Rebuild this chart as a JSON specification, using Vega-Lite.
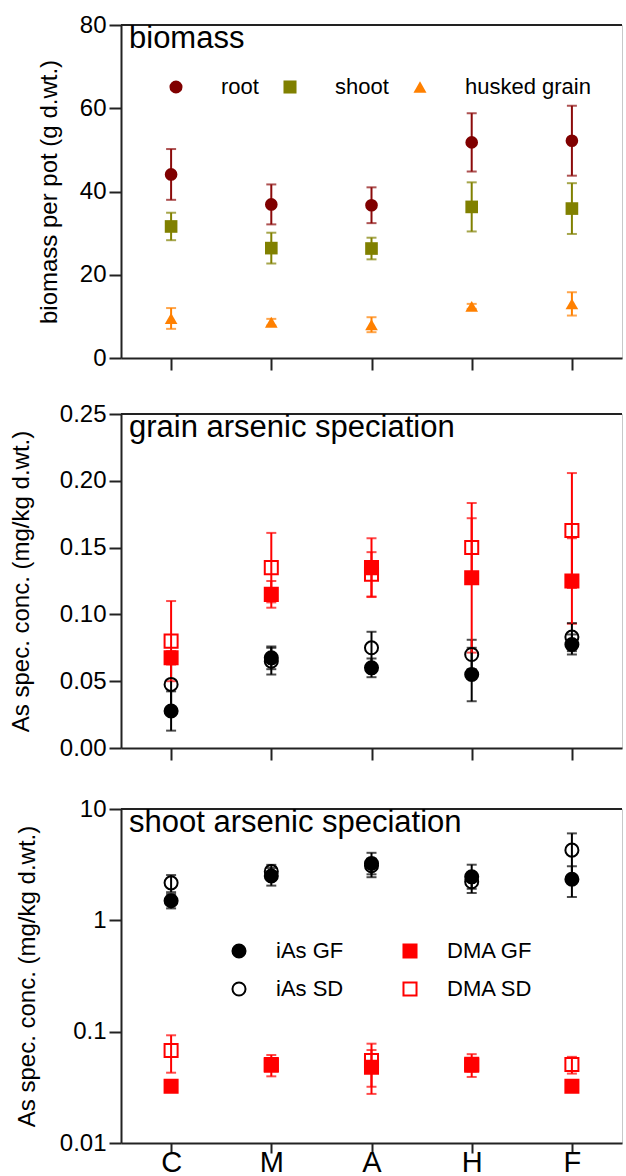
{
  "$schema": "https://vega.github.io/schema/vega-lite/v6.json",
  "padding": {"left": 8, "top": 12, "right": 0, "bottom": 0},
  "background": "white",
  "config": {
    "font": "Liberation Sans",
    "view": {"stroke": "#c8c8c8", "strokeWidth": 1},
    "axis": {
      "domainColor": "#222", "domainWidth": 2, "tickColor": "#222", "tickWidth": 2, "tickSize": 12,
      "labelFontSize": 24, "labelColor": "#000", "labelPadding": 3, "labelFlush": false,
      "titleFontSize": 24, "titleFontWeight": "normal", "titleColor": "#000", "grid": false
    },
    "legend": {"labelFontSize": 22, "labelColor": "#000", "padding": 0},
    "title": {"fontSize": 31, "fontWeight": "normal", "anchor": "start", "frame": "group", "color": "#000", "baseline": "alphabetic", "offset": -42, "dx": 8}
  },
  "datasets": {
    "biomass": [
      {"treatment": "C", "tissue": "root", "mean": 44.1, "sd": 6.1},
      {"treatment": "M", "tissue": "root", "mean": 36.9, "sd": 4.8},
      {"treatment": "A", "tissue": "root", "mean": 36.7, "sd": 4.3},
      {"treatment": "H", "tissue": "root", "mean": 51.8, "sd": 7.0},
      {"treatment": "F", "tissue": "root", "mean": 52.2, "sd": 8.4},
      {"treatment": "C", "tissue": "shoot", "mean": 31.6, "sd": 3.3},
      {"treatment": "M", "tissue": "shoot", "mean": 26.4, "sd": 3.7},
      {"treatment": "A", "tissue": "shoot", "mean": 26.3, "sd": 2.6},
      {"treatment": "H", "tissue": "shoot", "mean": 36.3, "sd": 5.9},
      {"treatment": "F", "tissue": "shoot", "mean": 35.9, "sd": 6.1},
      {"treatment": "C", "tissue": "husked grain", "mean": 9.5, "sd": 2.5},
      {"treatment": "M", "tissue": "husked grain", "mean": 8.6, "sd": 0.8},
      {"treatment": "A", "tissue": "husked grain", "mean": 8.0, "sd": 1.8},
      {"treatment": "H", "tissue": "husked grain", "mean": 12.4, "sd": 0.6},
      {"treatment": "F", "tissue": "husked grain", "mean": 13.0, "sd": 2.8}
    ],
    "speciation": [
      {"part": "grain", "treatment": "C", "series": "iAs GF", "mean": 0.0277, "sd": 0.0147},
      {"part": "grain", "treatment": "M", "series": "iAs GF", "mean": 0.0675, "sd": 0.0085},
      {"part": "grain", "treatment": "A", "series": "iAs GF", "mean": 0.060, "sd": 0.007},
      {"part": "grain", "treatment": "H", "series": "iAs GF", "mean": 0.055, "sd": 0.020},
      {"part": "grain", "treatment": "F", "series": "iAs GF", "mean": 0.0775, "sd": 0.0075},
      {"part": "grain", "treatment": "C", "series": "iAs SD", "mean": 0.0476, "sd": 0.017},
      {"part": "grain", "treatment": "M", "series": "iAs SD", "mean": 0.065, "sd": 0.010},
      {"part": "grain", "treatment": "A", "series": "iAs SD", "mean": 0.075, "sd": 0.012},
      {"part": "grain", "treatment": "H", "series": "iAs SD", "mean": 0.070, "sd": 0.011},
      {"part": "grain", "treatment": "F", "series": "iAs SD", "mean": 0.083, "sd": 0.0105},
      {"part": "grain", "treatment": "C", "series": "DMA GF", "mean": 0.0675, "sd": 0.005},
      {"part": "grain", "treatment": "M", "series": "DMA GF", "mean": 0.115, "sd": 0.010},
      {"part": "grain", "treatment": "A", "series": "DMA GF", "mean": 0.135, "sd": 0.022},
      {"part": "grain", "treatment": "H", "series": "DMA GF", "mean": 0.1274, "sd": 0.056},
      {"part": "grain", "treatment": "F", "series": "DMA GF", "mean": 0.125, "sd": 0.032},
      {"part": "grain", "treatment": "C", "series": "DMA SD", "mean": 0.080, "sd": 0.030},
      {"part": "grain", "treatment": "M", "series": "DMA SD", "mean": 0.135, "sd": 0.026},
      {"part": "grain", "treatment": "A", "series": "DMA SD", "mean": 0.130, "sd": 0.0166},
      {"part": "grain", "treatment": "H", "series": "DMA SD", "mean": 0.150, "sd": 0.022},
      {"part": "grain", "treatment": "F", "series": "DMA SD", "mean": 0.1628, "sd": 0.043},
      {"part": "shoot", "treatment": "C", "series": "iAs GF", "mean": 1.50, "sd": 0.22},
      {"part": "shoot", "treatment": "M", "series": "iAs GF", "mean": 2.5, "sd": 0.45},
      {"part": "shoot", "treatment": "A", "series": "iAs GF", "mean": 3.24, "sd": 0.8},
      {"part": "shoot", "treatment": "H", "series": "iAs GF", "mean": 2.46, "sd": 0.7},
      {"part": "shoot", "treatment": "F", "series": "iAs GF", "mean": 2.34, "sd": 0.72},
      {"part": "shoot", "treatment": "C", "series": "iAs SD", "mean": 2.17, "sd": 0.38},
      {"part": "shoot", "treatment": "M", "series": "iAs SD", "mean": 2.75, "sd": 0.4},
      {"part": "shoot", "treatment": "A", "series": "iAs SD", "mean": 3.09, "sd": 0.5},
      {"part": "shoot", "treatment": "H", "series": "iAs SD", "mean": 2.22, "sd": 0.3},
      {"part": "shoot", "treatment": "F", "series": "iAs SD", "mean": 4.27, "sd": 1.77},
      {"part": "shoot", "treatment": "C", "series": "DMA GF", "mean": 0.0324, "sd": 0.002},
      {"part": "shoot", "treatment": "M", "series": "DMA GF", "mean": 0.0507, "sd": 0.011},
      {"part": "shoot", "treatment": "A", "series": "DMA GF", "mean": 0.048, "sd": 0.0204},
      {"part": "shoot", "treatment": "H", "series": "DMA GF", "mean": 0.051, "sd": 0.0118},
      {"part": "shoot", "treatment": "F", "series": "DMA GF", "mean": 0.0324, "sd": 0.003},
      {"part": "shoot", "treatment": "C", "series": "DMA SD", "mean": 0.0678, "sd": 0.025},
      {"part": "shoot", "treatment": "M", "series": "DMA SD", "mean": 0.05, "sd": 0.005},
      {"part": "shoot", "treatment": "A", "series": "DMA SD", "mean": 0.055, "sd": 0.023},
      {"part": "shoot", "treatment": "H", "series": "DMA SD", "mean": 0.0499, "sd": 0.006},
      {"part": "shoot", "treatment": "F", "series": "DMA SD", "mean": 0.0507, "sd": 0.0087}
    ]
  },
  "bounds": "flush",
  "spacing": 56,
  "resolve": {"scale": {"x": "independent", "y": "independent", "color": "independent", "shape": "independent", "fill": "independent", "stroke": "independent"}},
  "vconcat": [
    {
      "width": 501, "height": 333,
      "title": {"text": "biomass"},
      "data": {"name": "biomass"},
      "resolve": {"scale": {"color": "independent", "shape": "independent"}},
      "layer": [
        {
          "mark": {"type": "rule", "color": "#222", "strokeWidth": 2},
          "encoding": {"y": {"datum": 80, "type": "quantitative", "scale": {"domain": [0, 80]}}}
        },
        {
          "mark": {"type": "errorbar", "thickness": 2, "ticks": {"size": 10}},
          "encoding": {
            "x": {"field": "treatment", "type": "nominal", "scale": {"type": "point", "domain": ["C", "M", "A", "H", "F"], "padding": 0.5}, "axis": {"labels": false, "title": null}},
            "y": {"field": "mean", "type": "quantitative", "scale": {"domain": [0, 80]}, "axis": {"values": [0, 20, 40, 60, 80], "title": "biomass per pot (g d.wt.)", "titlePadding": 18}},
            "yError": {"field": "sd"},
            "color": {"field": "tissue", "type": "nominal", "scale": {"domain": ["root", "shoot", "husked grain"], "range": ["#8b0a0a", "#808000", "#ff8000"]}, "legend": null}
          }
        },
        {
          "mark": {"type": "point", "filled": true, "size": 160, "opacity": 1},
          "encoding": {
            "x": {"field": "treatment", "type": "nominal", "scale": {"type": "point", "domain": ["C", "M", "A", "H", "F"], "padding": 0.5}, "axis": {"labels": false, "title": null}},
            "y": {"field": "mean", "type": "quantitative", "scale": {"domain": [0, 80]}, "axis": {"values": [0, 20, 40, 60, 80], "title": "biomass per pot (g d.wt.)", "titlePadding": 18}},
            "color": {"field": "tissue", "type": "nominal", "scale": {"domain": ["root", "shoot", "husked grain"], "range": ["#800000", "#808000", "#ff8000"]},
              "legend": {"title": null, "orient": "none", "legendX": 44, "legendY": 51, "direction": "horizontal", "labelOffset": 34, "columnPadding": 20, "symbolSize": 170}},
            "shape": {"field": "tissue", "type": "nominal", "scale": {"domain": ["root", "shoot", "husked grain"], "range": ["circle", "square", "triangle-up"]},
              "legend": {"title": null, "orient": "none", "legendX": 44, "legendY": 51, "direction": "horizontal", "labelOffset": 34, "columnPadding": 20, "symbolSize": 170}}
          }
        }
      ]
    },
    {
      "bounds": "flush",
      "spacing": 61,
      "resolve": {"scale": {"x": "independent", "y": "independent", "color": "independent", "shape": "independent", "fill": "independent", "stroke": "independent"}},
      "vconcat": [
        {
          "width": 501, "height": 334,
          "title": {"text": "grain arsenic speciation"},
          "data": {"name": "speciation"},
          "transform": [{"filter": "datum.part === 'grain'"}],
          "layer": [
            {
              "mark": {"type": "rule", "color": "#222", "strokeWidth": 2},
              "encoding": {"y": {"datum": 0.25, "type": "quantitative", "scale": {"domain": [0, 0.25]}}}
            },
            {
              "mark": {"type": "errorbar", "thickness": 2, "ticks": {"size": 10}},
              "encoding": {
                "x": {"field": "treatment", "type": "nominal", "scale": {"type": "point", "domain": ["C", "M", "A", "H", "F"], "padding": 0.5}, "axis": {"labels": false, "title": null}},
                "y": {"field": "mean", "type": "quantitative", "scale": {"domain": [0, 0.25]}, "axis": {"values": [0, 0.05, 0.1, 0.15, 0.2, 0.25], "format": ".2f", "title": "As spec. conc. (mg/kg d.wt.)", "titlePadding": 26}},
                "yError": {"field": "sd"},
                "color": {"field": "series", "type": "nominal", "scale": {"domain": ["iAs GF", "DMA GF", "iAs SD", "DMA SD"], "range": ["#000000", "#ff0000", "#000000", "#ff0000"]}, "legend": null}
              }
            },
            {
              "mark": {"type": "point", "size": 170, "strokeWidth": 2, "opacity": 1},
              "encoding": {
                "x": {"field": "treatment", "type": "nominal", "scale": {"type": "point", "domain": ["C", "M", "A", "H", "F"], "padding": 0.5}, "axis": {"labels": false, "title": null}},
                "y": {"field": "mean", "type": "quantitative", "scale": {"domain": [0, 0.25]}, "axis": {"values": [0, 0.05, 0.1, 0.15, 0.2, 0.25], "format": ".2f", "title": "As spec. conc. (mg/kg d.wt.)", "titlePadding": 26}},
                "shape": {"field": "series", "type": "nominal", "scale": {"domain": ["iAs GF", "DMA GF", "iAs SD", "DMA SD"], "range": ["circle", "square", "circle", "square"]}, "legend": null},
                "fill": {"field": "series", "type": "nominal", "scale": {"domain": ["iAs GF", "DMA GF", "iAs SD", "DMA SD"], "range": ["#000000", "#ff0000", "transparent", "transparent"]}, "legend": null},
                "stroke": {"field": "series", "type": "nominal", "scale": {"domain": ["iAs GF", "DMA GF", "iAs SD", "DMA SD"], "range": ["#000000", "#ff0000", "#000000", "#ff0000"]}, "legend": null}
              }
            }
          ]
        },
        {
          "width": 501, "height": 334,
          "title": {"text": "shoot arsenic speciation"},
          "data": {"name": "speciation"},
          "transform": [{"filter": "datum.part === 'shoot'"}],
          "resolve": {"scale": {"color": "independent"}},
          "layer": [
            {
              "mark": {"type": "rule", "color": "#222", "strokeWidth": 2},
              "encoding": {"y": {"datum": 10, "type": "quantitative", "scale": {"type": "log", "domain": [0.01, 10]}}}
            },
            {
              "mark": {"type": "errorbar", "thickness": 2, "ticks": {"size": 10}},
              "encoding": {
                "x": {"field": "treatment", "type": "nominal", "scale": {"type": "point", "domain": ["C", "M", "A", "H", "F"], "padding": 0.5}, "axis": {"labelFontSize": 29, "labelAngle": 0, "tickSize": 10, "labelPadding": -5, "title": null}},
                "y": {"field": "mean", "type": "quantitative", "scale": {"type": "log", "domain": [0.01, 10]}, "axis": {"values": [0.01, 0.1, 1, 10], "format": "~g", "title": "As spec. conc. (mg/kg d.wt.)", "titlePadding": 20}},
                "yError": {"field": "sd"},
                "color": {"field": "series", "type": "nominal", "scale": {"domain": ["iAs GF", "DMA GF", "iAs SD", "DMA SD"], "range": ["#000000", "#ff0000", "#000000", "#ff0000"]}, "legend": null}
              }
            },
            {
              "mark": {"type": "point", "size": 170, "strokeWidth": 2, "opacity": 1},
              "encoding": {
                "x": {"field": "treatment", "type": "nominal", "scale": {"type": "point", "domain": ["C", "M", "A", "H", "F"], "padding": 0.5}, "axis": {"labelFontSize": 29, "labelAngle": 0, "tickSize": 10, "labelPadding": -5, "title": null}},
                "y": {"field": "mean", "type": "quantitative", "scale": {"type": "log", "domain": [0.01, 10]}, "axis": {"values": [0.01, 0.1, 1, 10], "format": "~g", "title": "As spec. conc. (mg/kg d.wt.)", "titlePadding": 20}},
                "shape": {"field": "series", "type": "nominal", "scale": {"domain": ["iAs GF", "DMA GF", "iAs SD", "DMA SD"], "range": ["circle", "square", "circle", "square"]},
                  "legend": {"title": null, "orient": "none", "legendX": 107, "legendY": 131, "columns": 2, "direction": "horizontal", "labelOffset": 26, "columnPadding": 55, "rowPadding": 16, "symbolSize": 170, "symbolStrokeWidth": 2}},
                "fill": {"field": "series", "type": "nominal", "scale": {"domain": ["iAs GF", "DMA GF", "iAs SD", "DMA SD"], "range": ["#000000", "#ff0000", "transparent", "transparent"]},
                  "legend": {"title": null, "orient": "none", "legendX": 107, "legendY": 131, "columns": 2, "direction": "horizontal", "labelOffset": 26, "columnPadding": 55, "rowPadding": 16, "symbolSize": 170, "symbolStrokeWidth": 2}},
                "stroke": {"field": "series", "type": "nominal", "scale": {"domain": ["iAs GF", "DMA GF", "iAs SD", "DMA SD"], "range": ["#000000", "#ff0000", "#000000", "#ff0000"]},
                  "legend": {"title": null, "orient": "none", "legendX": 107, "legendY": 131, "columns": 2, "direction": "horizontal", "labelOffset": 26, "columnPadding": 55, "rowPadding": 16, "symbolSize": 170, "symbolStrokeWidth": 2}}
              }
            }
          ]
        }
      ]
    }
  ]
}
